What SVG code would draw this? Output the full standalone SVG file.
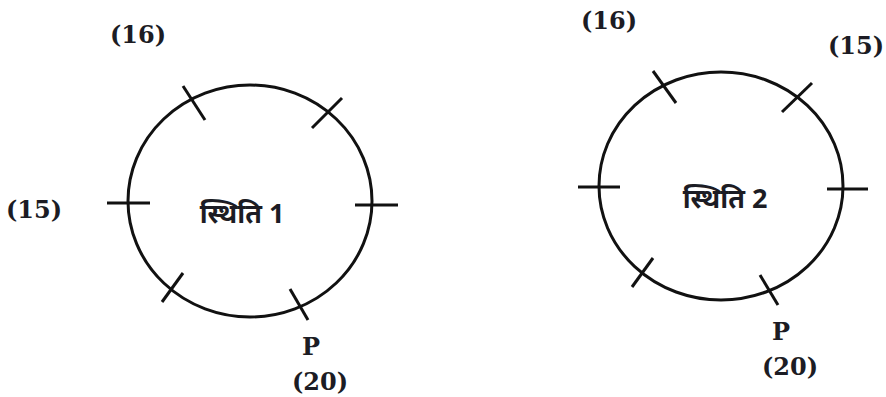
<svg xmlns="http://www.w3.org/2000/svg" width="886" height="397" viewBox="0 0 886 397">
<style>
.ring{fill:none;stroke:#111;stroke-width:3}
.tick{stroke:#111;stroke-width:3;stroke-linecap:butt}
.lbl{font-family:"DejaVu Serif","Liberation Serif",serif;font-weight:bold;font-size:24px;fill:#1c1c24}
.cap{font-family:"Noto Sans","Noto Sans Devanagari","Lohit Devanagari",sans-serif;font-weight:bold;font-size:27px;fill:#1c1c24;text-anchor:middle}
</style>
<rect width="886" height="397" fill="#fff"/>
<g id="state1">
<ellipse class="ring" cx="250" cy="201" rx="122" ry="116"/>
<g id="ticks1">
<line class="tick" x1="107" y1="203" x2="150" y2="203"/>
<line class="tick" x1="355" y1="205" x2="398" y2="205"/>
<line class="tick" x1="183" y1="86" x2="205" y2="120"/>
<line class="tick" x1="342" y1="98" x2="312" y2="128"/>
<line class="tick" x1="183" y1="273" x2="162" y2="302"/>
<line class="tick" x1="290" y1="289" x2="308" y2="320"/>
</g>
<text class="cap" x="242" y="223">स्थिति 1</text>
</g>
<g id="state2">
<ellipse class="ring" cx="721" cy="186" rx="122" ry="114"/>
<g id="ticks2">
<line class="tick" x1="578" y1="187" x2="620" y2="187"/>
<line class="tick" x1="827" y1="189" x2="868" y2="189"/>
<line class="tick" x1="653" y1="71" x2="676" y2="103"/>
<line class="tick" x1="812" y1="83" x2="782" y2="112"/>
<line class="tick" x1="653" y1="258" x2="632" y2="287"/>
<line class="tick" x1="760" y1="275" x2="778" y2="305"/>
</g>
<text class="cap" x="725" y="208">स्थिति 2</text>
</g>
<g id="labels">
<text class="lbl" x="110" y="43">(16)</text>
<text class="lbl" x="6" y="218">(15)</text>
<text class="lbl" x="302" y="355">P</text>
<text class="lbl" x="292" y="390">(20)</text>
<text class="lbl" x="581" y="29">(16)</text>
<text class="lbl" x="828" y="54">(15)</text>
<text class="lbl" x="772" y="340">P</text>
<text class="lbl" x="762" y="375">(20)</text>
</g>
</svg>
